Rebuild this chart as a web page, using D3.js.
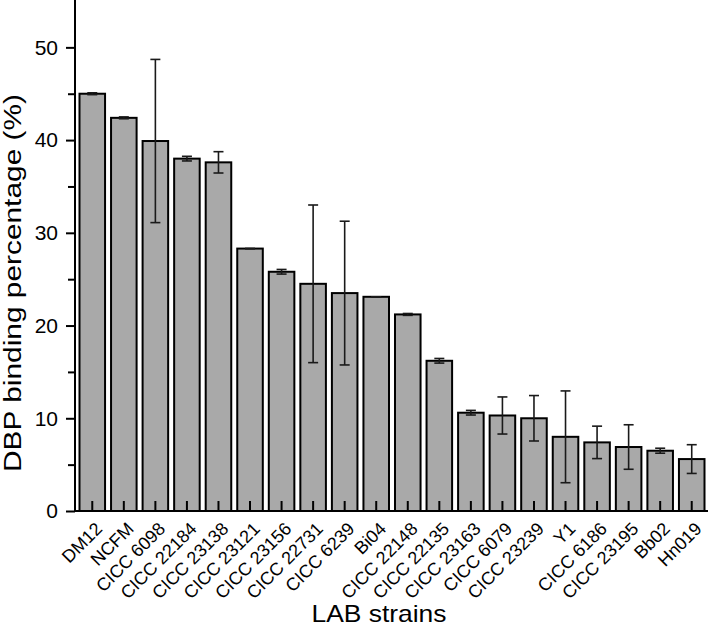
<!DOCTYPE html>
<html>
<head>
<meta charset="utf-8">
<script src="https://cdn.jsdelivr.net/npm/d3@7"></script>
<style>
  html, body { margin: 0; padding: 0; background: #fff; }
  svg { display: block; font-family: "Liberation Sans", Arial, Helvetica, sans-serif; }
</style>
</head>
<body>
<svg id="chart" width="709" height="628"></svg>
<script>
const categories = ["DM12","NCFM","CICC 6098","CICC 22184","CICC 23138","CICC 23121","CICC 23156","CICC 22731","CICC 6239","Bi04","CICC 22148","CICC 22135","CICC 23163","CICC 6079","CICC 23239","Y1","CICC 6186","CICC 23195","Bb02","Hn019"];
const values = [45.0, 42.4, 39.9, 38.0, 37.6, 28.3, 25.8, 24.5, 23.5, 23.1, 21.2, 16.2, 10.6, 10.3, 10.0, 8.0, 7.4, 6.9, 6.5, 5.6];
const errors = [0.1, 0.1, 8.8, 0.25, 1.15, 0, 0.25, 8.5, 7.75, 0, 0.1, 0.25, 0.25, 2.0, 2.45, 4.95, 1.75, 2.4, 0.27, 1.55];
const yMajorTicks = [0, 10, 20, 30, 40, 50];
const yMinorTicks = [5, 15, 25, 35, 45];
const yLabel = "DBP binding percentage (%)";
const xLabel = "LAB strains";

const svg = d3.select("#chart");
const x = d3.scaleBand().domain(categories).range([76.5, 707.5]).paddingInner(0.19).paddingOuter(0.095);
const y = d3.scaleLinear().domain([0, 55]).range([511, 1]);

// bars
svg.append("g").selectAll("rect").data(categories).join("rect")
  .attr("x", d => x(d))
  .attr("y", (d, i) => y(values[i]))
  .attr("width", x.bandwidth())
  .attr("height", (d, i) => y(0) - y(values[i]))
  .attr("fill", "#a9a9a9")
  .attr("stroke", "#000")
  .attr("stroke-width", 2);

// x inner ticks
svg.append("g").selectAll("line").data(categories).join("line")
  .attr("x1", d => x(d) + x.bandwidth() / 2)
  .attr("x2", d => x(d) + x.bandwidth() / 2)
  .attr("y1", y(0)).attr("y2", y(0) - 10)
  .attr("stroke", "#000").attr("stroke-width", 2);

// error bars
const eb = svg.append("g").attr("stroke", "#1a1a1a").attr("stroke-width", 1.6);
categories.forEach((c, i) => {
  const cx = x(c) + x.bandwidth() / 2;
  const hi = y(values[i] + errors[i]), lo = y(values[i] - errors[i]);
  eb.append("line").attr("x1", cx).attr("x2", cx).attr("y1", hi).attr("y2", lo);
  eb.append("line").attr("x1", cx - 5).attr("x2", cx + 5).attr("y1", hi).attr("y2", hi);
  eb.append("line").attr("x1", cx - 5).attr("x2", cx + 5).attr("y1", lo).attr("y2", lo);
});

// y axis
const yAxis = d3.axisLeft(y).tickValues(yMajorTicks).tickSize(9).tickPadding(8).tickFormat(d3.format("d"));
const gy = svg.append("g").attr("transform", "translate(75,0)").call(yAxis);
gy.select(".domain").attr("d", `M0,${y(55) - 1}V${y(0) + 1}`).attr("stroke-width", 2);
gy.selectAll(".tick line").attr("stroke-width", 2);
gy.selectAll(".tick text").attr("font-size", 21).attr("fill", "#000").attr("font-family", "Liberation Sans, Arial, sans-serif");
const gyMinor = svg.append("g").attr("transform", "translate(75,0)")
  .call(d3.axisLeft(y).tickValues(yMinorTicks).tickSize(7).tickFormat(""));
gyMinor.select(".domain").remove();
gyMinor.selectAll(".tick line").attr("stroke-width", 2);

// x axis line
svg.append("line").attr("x1", 74).attr("x2", 708).attr("y1", y(0)).attr("y2", y(0))
  .attr("stroke", "#000").attr("stroke-width", 2);

// x tick labels
svg.append("g").selectAll("text").data(categories).join("text")
  .attr("transform", d => `translate(${x(d) + x.bandwidth() / 2 + 11},${y(0) + 19}) rotate(-45)`)
  .attr("text-anchor", "end")
  .attr("font-size", 18)
  .attr("fill", "#000")
  .text(d => d);

// axis titles
svg.append("text")
  .attr("x", 379).attr("y", 622)
  .attr("text-anchor", "middle")
  .attr("font-size", 24)
  .attr("textLength", 135)
  .attr("lengthAdjust", "spacingAndGlyphs")
  .attr("fill", "#000")
  .text(xLabel);

svg.append("text")
  .attr("transform", "translate(21,283) rotate(-90)")
  .attr("text-anchor", "middle")
  .attr("font-size", 23)
  .attr("textLength", 378)
  .attr("lengthAdjust", "spacingAndGlyphs")
  .attr("fill", "#000")
  .text(yLabel);
</script>
</body>
</html>
